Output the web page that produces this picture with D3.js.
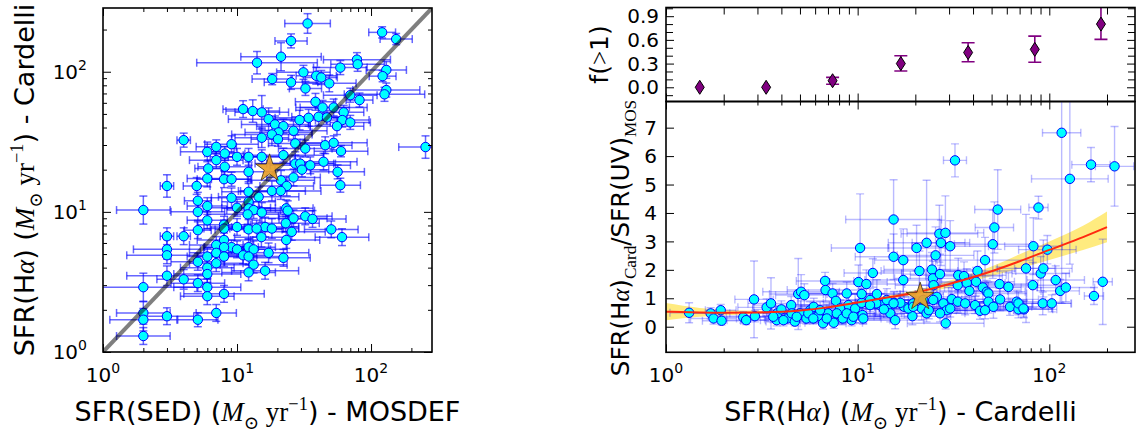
<!DOCTYPE html>
<html>
<head>
<meta charset="utf-8">
<script src="https://cdn.jsdelivr.net/npm/d3@7"></script>
<style>
  body { margin: 0; background: #fff; }
</style>
</head>
<body>
<div id="chart"></div>
<script>
// SFR(SED) vs SFR(Halpha): [x, y, x error (dex), y error (dex)]
const sedVsHalpha = [
  [33.6,221,0.17,0.07],[25.3,166,0.12,0.05],[121,191,0.1,0.04],[154,171,0.12,0.04],
  [14.1,116,0.45,0.08],[21.3,128,0.3,0.1],[78.5,122,0.25,0.05],[79.4,113,0.2,0.05],
  [59,107,0.2,0.05],[130,103,0.15,0.06],[31.3,99,0.2,0.05],[39,93.6,0.15,0.06],
  [42.5,91,0.12,0.05],[18.3,88.6,0.15,0.04],[25.3,84,0.2,0.05],[48.8,82.6,0.2,0.06],
  [32.4,76,0.12,0.05],[122,93,0.1,0.04],[130,74,0.25,0.05],[126,69,0.3,0.05],
  [70,68,0.2,0.05],[82,62.8,0.1,0.05],[38.5,61,0.15,0.06],[43.5,55.6,0.2,0.05],
  [52.6,55.6,0.25,0.06],[62.5,51.3,0.15,0.05],[11.1,54.1,0.15,0.06],[13.1,52.4,0.2,0.08],
  [15.3,51.3,0.2,0.12],[17.2,45.9,0.3,0.08],[34.2,46.9,0.25,0.06],[40.6,47.7,0.2,0.06],
  [46.9,47.2,0.15,0.05],[29.3,45.2,0.2,0.07],[61,45.2,0.2,0.05],[70,43.5,0.15,0.05],
  [55.7,40.9,0.2,0.06],[19.2,42.1,0.25,0.06],[22.2,40.9,0.2,0.05],[20.4,36.9,0.25,0.06],
  [26.4,37.9,0.25,0.07],[18.2,35.7,0.3,0.08],[20.2,33,0.2,0.05],[15.3,33.8,0.2,0.07],
  [4.0,32.5,0.05,0.05],[27.2,30.8,0.2,0.06],[45.5,29.9,0.2,0.06],[52.6,31.1,0.25,0.05],
  [9.1,30.4,0.2,0.06],[7.0,29.1,0.15,0.05],[6.0,26.8,0.2,0.07],[8.1,26.1,0.15,0.05],
  [10.0,24.7,0.2,0.06],[12.2,24.7,0.25,0.06],[15.3,24.7,0.25,0.05],[22.2,25.4,0.3,0.05],
  [59.7,27.1,0.2,0.04],[32.3,28.3,0.2,0.06],[7.0,23.4,0.2,0.06],[27.2,22.1,0.3,0.06],
  [29.6,22.1,0.25,0.05],[35.2,21.5,0.3,0.06],[44.2,22.8,0.25,0.06],[30.5,20,0.2,0.05],
  [6.1,20.4,0.1,0.06],[8.1,21,0.2,0.06],[12.2,19.3,0.2,0.07],[56.3,19.3,0.2,0.05],
  [6.0,17.3,0.15,0.06],[8.0,17.1,0.2,0.06],[9.1,17.1,0.15,0.05],[26.4,17.6,0.2,0.06],
  [21.3,16.8,0.25,0.07],[23.5,15.3,0.2,0.07],[3.0,15.3,0.05,0.08],[5.0,15.3,0.1,0.06],
  [59,15.5,0.15,0.05],[18.2,14.1,0.25,0.07],[21.2,14.1,0.3,0.06],[12.2,13.9,0.2,0.06],
  [14.5,12.8,0.3,0.07],[9.1,12.6,0.15,0.07],[5.1,12.0,0.1,0.06],[12.2,11.8,0.2,0.06],
  [6.0,11.0,0.15,0.06],[10.0,10.7,0.25,0.06],[12.2,10.6,0.2,0.06],[13.3,10.3,0.2,0.06],
  [15.3,9.9,0.2,0.07],[23.3,10.6,0.2,0.06],[23.9,10.2,0.2,0.07],[2.0,10.3,0.2,0.1],
  [5.1,10.0,0.2,0.06],[12.0,9.6,0.3,0.07],[32.3,9.3,0.2,0.06],[36.6,8.9,0.25,0.06],
  [26.4,9.0,0.25,0.06],[6.0,8.7,0.15,0.06],[23.1,8.3,0.25,0.06],[8.0,8.1,0.2,0.06],
  [10.0,7.8,0.2,0.06],[16.2,7.8,0.25,0.07],[18.2,7.6,0.2,0.07],[12.2,7.5,0.25,0.07],
  [14.0,7.6,0.2,0.06],[25.6,7.2,0.25,0.06],[50.5,7.5,0.2,0.06],[5.1,7.4,0.1,0.06],
  [8.0,7.6,0.15,0.06],[3.0,6.7,0.05,0.06],[4.0,6.7,0.05,0.06],[15.2,6.6,0.2,0.07],
  [60.7,6.6,0.2,0.06],[23.3,6.3,0.25,0.06],[8.0,6.3,0.2,0.06],[7.0,5.8,0.2,0.06],
  [9.1,5.6,0.2,0.05],[8.0,5.6,0.15,0.06],[10.0,5.4,0.25,0.06],[12.2,5.6,0.2,0.06],
  [13.3,5.4,0.25,0.06],[3.0,5.4,0.25,0.07],[3.0,4.9,0.3,0.06],[7.0,5.1,0.2,0.06],
  [8.0,4.8,0.2,0.07],[11.1,4.9,0.2,0.06],[12.2,4.8,0.25,0.06],[17.2,5.1,0.3,0.07],
  [22.2,4.7,0.2,0.06],[6.0,4.8,0.15,0.06],[5.1,4.4,0.2,0.06],[7.0,4.3,0.2,0.06],
  [13.3,4.2,0.25,0.06],[6.0,4.0,0.2,0.06],[6.0,3.6,0.25,0.06],[12.2,3.7,0.2,0.06],
  [16.2,3.8,0.25,0.06],[3.0,3.5,0.3,0.07],[4.0,3.3,0.2,0.07],[5.1,3.1,0.2,0.06],
  [6.0,2.9,0.25,0.06],[2.0,2.9,0.4,0.1],[6.0,2.5,0.2,0.06],[8.0,2.6,0.3,0.06],
  [2.0,1.9,0.2,0.08],[7.0,1.9,0.15,0.06],[2.0,1.7,0.25,0.08],[3.0,1.8,0.2,0.06],
  [5.1,1.7,0.15,0.05],[2.0,1.3,0.2,0.06],[255,29,0.2,0.08]
];
const stackLeft = [17.5, 20.4];

// SFR(Halpha) vs SFR(Halpha)/SFR(UV): [x, ratio, x error (dex), ratio error]
const halphaVsRatio = [
  [1.32,0.49,0.1,0.35],[1.71,0.47,0.1,0.2],[1.77,0.29,0.12,0.2],[1.93,0.58,0.08,0.2],
  [1.95,0.21,0.1,0.15],[2.53,0.33,0.12,0.2],[2.62,0.23,0.1,0.15],[2.91,0.37,0.15,0.2],
  [2.88,0.96,0.1,1.35],[3.35,0.68,0.15,0.3],[3.53,0.82,0.12,0.9],[3.78,0.23,0.15,0.2],
  [3.81,0.47,0.12,0.25],[4.0,0.61,0.15,0.3],[4.3,0.29,0.12,0.2],[4.5,0.76,0.2,0.3],
  [4.7,0.18,0.15,0.15],[4.9,1.15,0.15,1.25],[5.07,1.23,0.2,0.6],[5.27,1.11,0.15,0.4],
  [5.0,0.47,0.15,0.3],[5.4,0.29,0.2,0.2],[5.65,0.58,0.2,0.3],[5.9,0.70,0.2,0.3],
  [6.2,0.37,0.15,0.2],[6.6,0.12,0.12,0.2],[6.76,1.61,0.15,0.3],[6.8,1.29,0.2,0.4],
  [7.0,0.47,0.2,0.3],[7.4,1.17,0.15,0.35],[7.5,0.14,0.15,0.2],[7.7,0.91,0.2,0.4],
  [8.26,0.37,0.2,0.3],[8.77,1.17,0.2,0.4],[8.95,0.76,0.25,0.4],[9.3,0.23,0.2,0.2],
  [9.7,0.64,0.15,0.5],[10.1,1.57,0.15,0.6],[10.3,2.77,0.15,1.9],[10.5,0.84,0.2,0.5],
  [10.6,0.41,0.15,0.3],[11.1,1.50,0.2,0.5],[12.0,1.89,0.15,0.5],[12.6,1.15,0.2,0.5],
  [13.1,0.76,0.2,0.4],[14.2,0.64,0.25,0.3],[14.8,0.47,0.2,0.3],[15.4,3.77,0.25,1.4],
  [15.4,2.46,0.2,0.8],[15.5,0.84,0.2,0.4],[15.7,0.23,0.15,0.3],[17.3,2.34,0.15,1.1],
  [17.3,1.64,0.2,0.6],[17.5,0.70,0.2,0.4],[19.3,0.37,0.2,0.3],[20.3,2.77,0.15,0.8],
  [21.0,1.96,0.2,0.7],[21.6,0.64,0.2,0.4],[22.9,2.95,0.2,2.2],[22.9,0.47,0.2,0.3],
  [24.4,2.01,0.25,0.6],[24.7,1.70,0.2,0.6],[24.9,1.46,0.2,0.5],[25.5,2.51,0.2,1.0],
  [26.7,3.27,0.2,1.0],[27.2,2.95,0.15,0.8],[26.9,1.85,0.2,0.7],[28.0,0.82,0.25,0.4],
  [28.7,3.30,0.2,1.3],[29.2,0.58,0.2,0.4],[28.8,0.12,0.2,0.2],[30.4,2.83,0.2,0.9],
  [31.0,0.97,0.2,0.4],[32.2,5.85,0.06,0.58],[33.3,0.88,0.2,0.4],[33.5,1.81,0.25,0.6],
  [33.3,1.46,0.2,0.5],[35.9,1.78,0.2,0.5],[37.1,1.54,0.2,0.5],[38.3,1.26,0.2,0.5],
  [41.0,0.76,0.15,0.3],[41.5,1.58,0.2,0.5],[42.2,1.96,0.2,0.7],[43.5,0.56,0.15,0.3],
  [45.0,1.38,0.2,0.5],[46.2,2.34,0.25,0.8],[47.2,1.23,0.2,0.4],[48.1,1.17,0.2,0.4],
  [48.1,0.88,0.2,0.4],[50.7,2.90,0.2,1.2],[51.7,3.49,0.1,0.9],[51.1,0.70,0.2,0.4],
  [53.8,4.12,0.12,1.4],[55.0,1.50,0.2,0.6],[55.4,0.96,0.2,0.4],[61.2,1.40,0.15,0.5],
  [62.4,0.70,0.2,0.3],[67.6,0.88,0.15,0.4],[69.0,0.61,0.2,0.3],[73.8,0.61,0.15,0.3],
  [75.6,2.05,0.15,1.9],[82.0,1.46,0.15,0.8],[82.6,2.83,0.15,1.0],[87.8,4.19,0.05,0.4],
  [90.2,1.87,0.15,0.6],[93.1,2.05,0.15,1.0],[92.4,0.82,0.15,0.4],[97.7,2.71,0.15,0.5],
  [103,0.82,0.1,0.3],[108,1.64,0.15,0.5],[114,1.26,0.1,0.4],[116,6.82,0.1,6.0],
  [122,1.38,0.15,0.5],[128,5.20,0.2,3.0],[165,5.70,0.1,0.6],[171,1.08,0.05,0.3],
  [190,1.58,0.05,1.5],[219,5.64,0.1,1.4],
  [8.1,0.64,0.2,0.3],[10.5,1.15,0.2,0.4],[11.6,0.94,0.2,0.4],[12.5,0.82,0.2,0.4],
  [13.7,0.61,0.2,0.3],[16.7,0.84,0.2,0.4],[18.4,0.64,0.2,0.3],[19.5,0.82,0.2,0.4],
  [22.0,0.94,0.2,0.4],[23.5,0.58,0.2,0.3],[25.9,1.05,0.2,0.4],
  [3.63,0.35,0.15,0.2],[4.1,0.23,0.12,0.2],[4.53,0.47,0.15,0.25],[4.81,0.35,0.15,0.2],
  [5.53,0.47,0.2,0.3],[5.87,0.29,0.15,0.2],[6.37,0.58,0.2,0.3],[6.9,0.29,0.15,0.2],
  [7.78,0.47,0.2,0.3],[8.36,0.29,0.2,0.2],[8.77,0.47,0.15,0.3],[9.5,0.35,0.2,0.25],
  [10.7,0.29,0.15,0.2],[11.6,0.76,0.2,0.4],[14.2,0.94,0.2,0.4],[15.4,0.82,0.2,0.4],
  [19.5,0.70,0.2,0.3],[24.8,0.94,0.2,0.4],[26.9,0.47,0.2,0.3],[30.4,0.64,0.2,0.3],
  [36.4,0.82,0.2,0.4],[46.2,0.58,0.15,0.3],[69,0.82,0.15,0.4],[73.3,0.64,0.15,0.3]
];
const stackRight = [21.2, 1.05];

// running fit and its confidence band
const fitX = [1, 1.5, 2, 3, 5, 7, 10, 15, 20, 30, 50, 70, 100, 150, 200];
const fitY = [0.53, 0.5, 0.49, 0.5, 0.57, 0.68, 0.85, 1.05, 1.2, 1.5, 1.95, 2.3, 2.7, 3.15, 3.5];
const bandLo = [0.23, 0.35, 0.4, 0.45, 0.53, 0.63, 0.8, 0.98, 1.12, 1.38, 1.78, 2.05, 2.35, 2.7, 2.97];
const bandHi = [0.83, 0.66, 0.6, 0.56, 0.62, 0.73, 0.91, 1.12, 1.28, 1.62, 2.12, 2.55, 3.0, 3.55, 4.05];

// fraction with ratio > 1 per bin
const binCenters = [1.5, 3.33, 7.4, 16.8, 37.7, 84, 186];
const fraction = [0.0, 0.0, 0.083, 0.30, 0.44, 0.48, 0.80];
const fractionLo = [0.0, 0.0, 0.038, 0.206, 0.323, 0.316, 0.606];
const fractionHi = [0.0, 0.0, 0.126, 0.40, 0.563, 0.648, 1.05];

const ratioTicks = [0, 1, 2, 3, 4, 5, 6, 7];
const fractionTicks = [0.0, 0.3, 0.6, 0.9];
const decades = [1, 10, 100];

const width = 1141, height = 434;
const sans = "'DejaVu Sans', sans-serif";
const serif = "'Liberation Serif', 'DejaVu Serif', serif";
const labelSize = 27;

const svg = d3.select('#chart').append('svg')
  .attr('width', width)
  .attr('height', height)
  .attr('font-family', sans);

const defs = svg.append('defs');

function logMinors(domain) {
  var vals = [];
  decades.forEach(function(d) {
    for (var k = 2; k < 10; k++) {
      var v = k * d;
      if (v >= domain[0] && v <= domain[1]) vals.push(v);
    }
  });
  return vals;
}

// inward ticks on every side of a box
function drawTicks(g, box, xScale, yScale, xMajor, xMinor, yMajor, yMinor, opts) {
  opts = opts || {};
  var sides = [
    { axis: d3.axisBottom, scale: xScale, t: 'translate(0,' + box.y1 + ')', maj: xMajor, min: xMinor },
    { axis: d3.axisTop, scale: xScale, t: 'translate(0,' + box.y0 + ')', maj: xMajor, min: xMinor },
    { axis: d3.axisLeft, scale: yScale, t: 'translate(' + box.x0 + ',0)', maj: yMajor, min: yMinor },
    { axis: d3.axisRight, scale: yScale, t: 'translate(' + box.x1 + ',0)', maj: yMajor, min: yMinor }
  ];
  sides.forEach(function(s) {
    [[s.maj, opts.major || 8], [s.min, opts.minor || 4]].forEach(function(pair) {
      if (!pair[0] || !pair[0].length) return;
      var a = s.axis(s.scale).tickValues(pair[0]).tickSize(-pair[1]).tickSizeOuter(0).tickFormat('');
      var ag = g.append('g').attr('transform', s.t).call(a);
      ag.select('.domain').remove();
      ag.selectAll('line').attr('stroke', '#000').attr('stroke-width', 1);
    });
  });
}

function frame(g, box) {
  g.append('rect')
    .attr('x', box.x0).attr('y', box.y0)
    .attr('width', box.x1 - box.x0).attr('height', box.y1 - box.y0)
    .attr('fill', 'none').attr('stroke', '#000').attr('stroke-width', 1.6);
}

function clipFor(id, box) {
  defs.append('clipPath').attr('id', id).append('rect')
    .attr('x', box.x0).attr('y', box.y0)
    .attr('width', box.x1 - box.x0).attr('height', box.y1 - box.y0);
  return 'url(#' + id + ')';
}

function powerLabel(g, x, y, exp, anchor) {
  var t = g.append('text').attr('x', x).attr('y', y)
    .attr('font-size', 20).attr('text-anchor', anchor).attr('fill', '#000');
  t.append('tspan').text('10');
  t.append('tspan').text(exp).attr('font-size', 14).attr('dy', -9);
  return t;
}

function richLabel(g, parts, size) {
  var t = g.append('text').attr('font-size', size).attr('fill', '#000').attr('text-anchor', 'middle');
  var cur = 0;
  parts.forEach(function(p) {
    var s = t.append('tspan').text(p.t);
    var off = (p.off || 0) * size;
    if (off !== cur) { s.attr('dy', off - cur); cur = off; }
    if (p.serif) s.attr('font-family', serif);
    if (p.it) s.attr('font-style', 'italic');
    if (p.sm) s.attr('font-size', size * p.sm);
  });
  return t;
}

function unitParts() {
  return [
    { t: 'M', serif: true, it: true },
    { t: '\u2299', serif: true, sm: 0.68, off: 0.28 },
    { t: ' yr', serif: true },
    { t: '\u22121', serif: true, sm: 0.68, off: -0.42 },
    { t: ')' }
  ];
}

function starPath(size) {
  return d3.symbol().type(d3.symbolStar).size(size)();
}

function errorBars(g, data, xs, ys, xRange, yRange) {
  data.forEach(function(d) {
    var cx = xs(d[0]), cy = ys(d[1]);
    var xr = xRange(d), yr = yRange(d);
    var xa = xs(xr[0]), xb = xs(xr[1]), ya = ys(yr[0]), yb = ys(yr[1]);
    g.append('line').attr('x1', xa).attr('x2', xb).attr('y1', cy).attr('y2', cy);
    g.append('line').attr('x1', cx).attr('x2', cx).attr('y1', ya).attr('y2', yb);
    [xa, xb].forEach(function(x) {
      g.append('line').attr('x1', x).attr('x2', x).attr('y1', cy - 4).attr('y2', cy + 4);
    });
    [ya, yb].forEach(function(y) {
      g.append('line').attr('x1', cx - 4).attr('x2', cx + 4).attr('y1', y).attr('y2', y);
    });
  });
}

const dexRange = function(v, dex) { return [v * Math.pow(10, -dex), v * Math.pow(10, dex)]; };

// ---------------- left panel ----------------
const leftBox = { x0: 103, x1: 432, y0: 8, y1: 352 };
const xSED = d3.scaleLog().domain([1, 285]).range([leftBox.x0, leftBox.x1]);
const yHa = d3.scaleLog().domain([1, 285]).range([leftBox.y1, leftBox.y0]);

const gl = svg.append('g');
const lp = gl.append('g').attr('clip-path', clipFor('clipL', leftBox));

errorBars(
  lp.append('g').attr('stroke', '#0000ff').attr('stroke-opacity', 0.6).attr('stroke-width', 1.5),
  sedVsHalpha, xSED, yHa,
  function(d) { return dexRange(d[0], d[2]); },
  function(d) { return dexRange(d[1], d[3]); }
);

lp.append('g').selectAll('circle').data(sedVsHalpha).join('circle')
  .attr('cx', function(d) { return xSED(d[0]); })
  .attr('cy', function(d) { return yHa(d[1]); })
  .attr('r', 4.7)
  .attr('fill', '#00ffff')
  .attr('stroke', '#0000ff')
  .attr('stroke-width', 1);

lp.append('line')
  .attr('x1', xSED(1)).attr('y1', yHa(1))
  .attr('x2', xSED(285)).attr('y2', yHa(285))
  .attr('stroke', '#000').attr('stroke-opacity', 0.5).attr('stroke-width', 4);

lp.append('path')
  .attr('d', starPath(240))
  .attr('transform', 'translate(' + xSED(stackLeft[0]) + ',' + yHa(stackLeft[1]) + ')')
  .attr('fill', '#e8a02a').attr('fill-opacity', 0.92)
  .attr('stroke', '#3a3010').attr('stroke-width', 0.8);

drawTicks(gl, leftBox, xSED, yHa, decades, logMinors(xSED.domain()), decades, logMinors(yHa.domain()));
frame(gl, leftBox);

decades.forEach(function(v, i) {
  powerLabel(gl, xSED(v), 382, String(i), 'middle');
  powerLabel(gl, 87, yHa(v) + 7, String(i), 'end');
});

richLabel(gl, [{ t: 'SFR(SED) (' }].concat(unitParts()).concat([{ t: ' - MOSDEF' }]), labelSize)
  .attr('transform', 'translate(' + ((leftBox.x0 + leftBox.x1) / 2) + ',421)');

richLabel(gl, [{ t: 'SFR(H' }, { t: '\u03b1', serif: true, it: true }, { t: ') (' }]
  .concat(unitParts()).concat([{ t: ' - Cardelli' }]), labelSize)
  .attr('transform', 'translate(34,' + ((leftBox.y0 + leftBox.y1) / 2) + ') rotate(-90)');

// ---------------- right panels ----------------
const topBox = { x0: 666, x1: 1135, y0: 7.5, y1: 101.5 };
const botBox = { x0: 666, x1: 1135, y0: 101.5, y1: 352.3 };
const xHa = d3.scaleLog().domain([1, 280]).range([botBox.x0, botBox.x1]);
const yFrac = d3.scaleLinear().domain([-0.18, 1.01]).range([topBox.y1, topBox.y0]);
const yRatio = d3.scaleLinear().domain([-0.9, 7.92]).range([botBox.y1, botBox.y0]);

const gr = svg.append('g');
const xMinorR = logMinors(xHa.domain());

// top: fraction above unity
const tp = gr.append('g').attr('clip-path', clipFor('clipT', topBox));
const errT = tp.append('g').attr('stroke', '#800080').attr('stroke-width', 1.6);
binCenters.forEach(function(c, i) {
  if (fractionHi[i] === fractionLo[i]) return;
  var x = xHa(c);
  errT.append('line').attr('x1', x).attr('x2', x).attr('y1', yFrac(fractionLo[i])).attr('y2', yFrac(fractionHi[i]));
  [fractionLo[i], fractionHi[i]].forEach(function(v) {
    errT.append('line').attr('x1', x - 6.5).attr('x2', x + 6.5).attr('y1', yFrac(v)).attr('y2', yFrac(v));
  });
});
tp.append('g').selectAll('path').data(binCenters).join('path')
  .attr('d', 'M0,-7L4.5,0L0,7L-4.5,0Z')
  .attr('transform', function(c, i) { return 'translate(' + xHa(c) + ',' + yFrac(fraction[i]) + ')'; })
  .attr('fill', '#800080').attr('stroke', '#000').attr('stroke-width', 1);

const fracMinor = [-0.1, 0.1, 0.2, 0.4, 0.5, 0.7, 0.8, 1.0];
drawTicks(gr, topBox, xHa, yFrac, decades, xMinorR, fractionTicks, fracMinor, { major: 8, minor: 7 });
frame(gr, topBox);
fractionTicks.forEach(function(v) {
  gr.append('text').attr('x', 659).attr('y', yFrac(v)).attr('dy', '0.36em')
    .attr('text-anchor', 'end').attr('font-size', 20).text(v.toFixed(1));
});
richLabel(gr, [{ t: 'f(' }, { t: '>', serif: true }, { t: '1)' }], 25)
  .attr('transform', 'translate(608,' + ((topBox.y0 + topBox.y1) / 2) + ') rotate(-90)');

// bottom: ratio vs SFR(Halpha)
const bp = gr.append('g').attr('clip-path', clipFor('clipB', botBox));

bp.append('path')
  .datum(fitX)
  .attr('d', d3.area()
    .x(function(d) { return xHa(d); })
    .y0(function(d, i) { return yRatio(bandLo[i]); })
    .y1(function(d, i) { return yRatio(bandHi[i]); })
    .curve(d3.curveMonotoneX))
  .attr('fill', '#ffd700').attr('fill-opacity', 0.5);

errorBars(
  bp.append('g').attr('stroke', '#0000ff').attr('stroke-opacity', 0.27).attr('stroke-width', 1.4),
  halphaVsRatio, xHa, yRatio,
  function(d) { return dexRange(d[0], d[2]); },
  function(d) { return [d[1] - d[3], d[1] + d[3]]; }
);

bp.append('g').selectAll('circle').data(halphaVsRatio).join('circle')
  .attr('cx', function(d) { return xHa(d[0]); })
  .attr('cy', function(d) { return yRatio(d[1]); })
  .attr('r', 4.7)
  .attr('fill', '#00ffff')
  .attr('stroke', '#0000ff')
  .attr('stroke-width', 1);

bp.append('path')
  .datum(fitX)
  .attr('d', d3.line()
    .x(function(d) { return xHa(d); })
    .y(function(d, i) { return yRatio(fitY[i]); })
    .curve(d3.curveMonotoneX))
  .attr('fill', 'none').attr('stroke', '#ff2a10').attr('stroke-width', 2);

bp.append('path')
  .attr('d', starPath(240))
  .attr('transform', 'translate(' + xHa(stackRight[0]) + ',' + yRatio(stackRight[1]) + ')')
  .attr('fill', '#e8a02a').attr('fill-opacity', 0.92)
  .attr('stroke', '#3a3010').attr('stroke-width', 0.8);

drawTicks(gr, botBox, xHa, yRatio, decades, xMinorR, ratioTicks, []);
frame(gr, botBox);

ratioTicks.forEach(function(v) {
  gr.append('text').attr('x', 657).attr('y', yRatio(v)).attr('dy', '0.36em')
    .attr('text-anchor', 'end').attr('font-size', 20).text(v);
});
decades.forEach(function(v, i) {
  powerLabel(gr, xHa(v), 382, String(i), 'middle');
});

richLabel(gr, [{ t: 'SFR(H' }, { t: '\u03b1', serif: true, it: true }, { t: ') (' }]
  .concat(unitParts()).concat([{ t: ' - Cardelli' }]), labelSize)
  .attr('transform', 'translate(' + ((botBox.x0 + botBox.x1) / 2) + ',421)');

richLabel(gr, [
  { t: 'SFR(H' }, { t: '\u03b1', serif: true, it: true }, { t: ')' },
  { t: 'Card', serif: true, sm: 0.7, off: 0.3 },
  { t: '/SFR(UV)' },
  { t: 'MOS', serif: true, sm: 0.7, off: 0.3 }
], 24.5)
  .attr('transform', 'translate(629,238) rotate(-90)');
</script>
</body>
</html>
